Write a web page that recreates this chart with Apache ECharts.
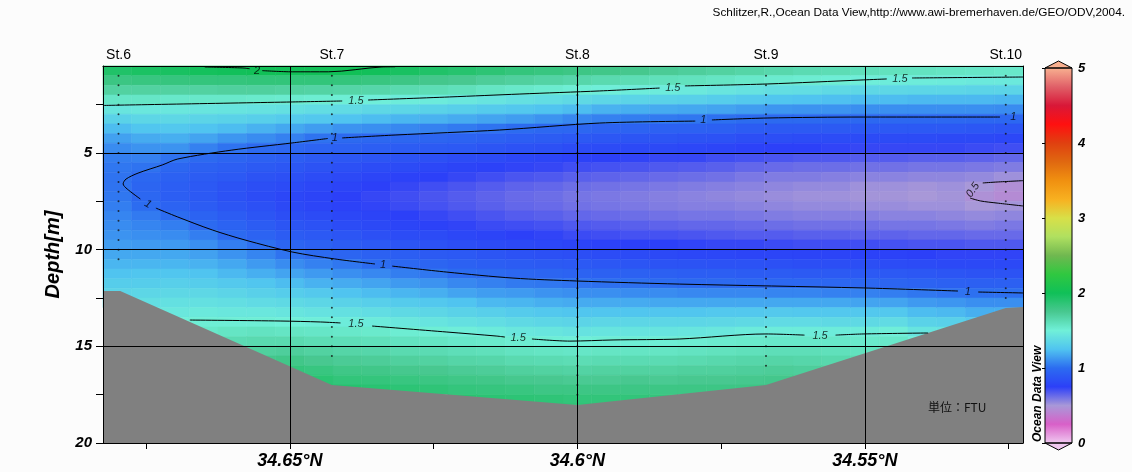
<!DOCTYPE html>
<html>
<head>
<meta charset="utf-8">
<title>Turbidity section St.6 - St.10</title>
<script src="https://cdn.jsdelivr.net/npm/echarts@6.0.0/dist/echarts.min.js"></script>
<style>
  html, body { margin: 0; padding: 0; background: #fcfcfc; }
  #chart { width: 1132px; height: 472px; }
</style>
</head>
<body>
<div id="chart"></div>
<script>
// section range
const latMax = 34.6825, latMin = 34.5225;
const depthMin = 0.5, depthMax = 20;

// gridded turbidity (FTU): cell centres
const lats = [34.680, 34.675, 34.670, 34.665, 34.660, 34.655, 34.650, 34.645, 34.640, 34.635, 34.630,
  34.625, 34.620, 34.615, 34.610, 34.605, 34.600, 34.595, 34.590, 34.585, 34.580, 34.575,
  34.570, 34.565, 34.560, 34.555, 34.550, 34.545, 34.540, 34.535, 34.530, 34.525];
const depths = [0.75, 1.25, 1.75, 2.25, 2.75, 3.25, 3.75, 4.25, 4.75, 5.25, 5.75, 6.25, 6.75, 7.25,
  7.75, 8.25, 8.75, 9.25, 9.75, 10.25, 10.75, 11.25, 11.75, 12.25, 12.75, 13.25, 13.75, 14.25,
  14.75, 15.25, 15.75, 16.25, 16.75, 17.25, 17.75, 18.25];
// one profile per latitude, from the surface down to the sea bed
const turbidity = [
  [1.93,1.81,1.69,1.56,1.44,1.33,1.23,1.15,1.09,1.05,1.03,1.02,1.02,1.03,1.05,1.07,1.09,1.11,1.14,1.17,1.21,1.25,1.30,1.34,1.38],
  [1.95,1.82,1.69,1.56,1.45,1.35,1.26,1.18,1.11,1.06,1.02,0.98,0.96,0.97,1.00,1.04,1.07,1.10,1.13,1.17,1.21,1.26,1.30,1.35,1.40,1.45],
  [1.96,1.83,1.69,1.55,1.45,1.36,1.27,1.19,1.11,1.02,0.97,0.94,0.92,0.92,0.95,1.00,1.05,1.09,1.13,1.17,1.21,1.26,1.31,1.36,1.41,1.45,1.50],
  [1.98,1.84,1.69,1.55,1.44,1.34,1.25,1.16,1.06,0.99,0.94,0.91,0.89,0.89,0.91,0.95,0.99,1.05,1.10,1.15,1.20,1.25,1.30,1.36,1.41,1.46,1.51,1.55,1.61],
  [1.99,1.84,1.70,1.55,1.43,1.33,1.23,1.12,1.02,0.96,0.92,0.89,0.86,0.85,0.87,0.91,0.95,0.99,1.05,1.11,1.17,1.22,1.28,1.34,1.40,1.45,1.51,1.57,1.63,1.69],
  [2.01,1.85,1.70,1.54,1.42,1.31,1.20,1.09,0.99,0.94,0.90,0.86,0.83,0.82,0.84,0.87,0.91,0.95,1.01,1.07,1.13,1.19,1.26,1.32,1.38,1.45,1.51,1.58,1.64,1.70,1.77],
  [2.01,1.85,1.69,1.53,1.41,1.29,1.17,1.06,0.97,0.92,0.88,0.84,0.81,0.79,0.80,0.83,0.87,0.91,0.96,1.02,1.09,1.16,1.23,1.30,1.37,1.44,1.50,1.57,1.64,1.71,1.78,1.84,1.89],
  [2.01,1.85,1.68,1.52,1.39,1.27,1.14,1.02,0.95,0.90,0.86,0.82,0.79,0.77,0.78,0.81,0.85,0.89,0.94,0.99,1.06,1.13,1.20,1.28,1.35,1.42,1.49,1.56,1.62,1.69,1.75,1.82,1.88,1.92],
  [2.01,1.84,1.67,1.51,1.38,1.25,1.11,0.99,0.94,0.88,0.84,0.80,0.77,0.75,0.76,0.79,0.82,0.87,0.91,0.96,1.03,1.10,1.18,1.25,1.33,1.41,1.48,1.55,1.61,1.67,1.73,1.79,1.85,1.90],
  [1.99,1.82,1.66,1.49,1.36,1.23,1.10,0.98,0.92,0.87,0.82,0.78,0.75,0.73,0.74,0.77,0.80,0.84,0.89,0.94,1.00,1.08,1.16,1.23,1.31,1.39,1.47,1.54,1.60,1.66,1.72,1.78,1.84,1.89],
  [1.96,1.80,1.64,1.48,1.35,1.21,1.08,0.97,0.91,0.86,0.81,0.76,0.73,0.71,0.72,0.75,0.78,0.82,0.87,0.92,0.98,1.05,1.13,1.21,1.29,1.37,1.45,1.52,1.58,1.64,1.70,1.76,1.82,1.87],
  [1.93,1.77,1.62,1.47,1.33,1.20,1.06,0.96,0.90,0.84,0.79,0.75,0.71,0.69,0.70,0.73,0.76,0.81,0.85,0.90,0.96,1.03,1.11,1.19,1.27,1.35,1.43,1.51,1.57,1.63,1.69,1.75,1.81,1.86],
  [1.90,1.75,1.60,1.45,1.31,1.18,1.04,0.95,0.89,0.82,0.77,0.73,0.69,0.67,0.68,0.71,0.74,0.79,0.83,0.89,0.94,1.00,1.08,1.16,1.25,1.33,1.41,1.49,1.55,1.61,1.67,1.73,1.79,1.84,1.89],
  [1.87,1.72,1.57,1.43,1.29,1.16,1.02,0.94,0.87,0.81,0.76,0.71,0.67,0.65,0.66,0.69,0.72,0.77,0.81,0.87,0.92,0.99,1.06,1.14,1.22,1.31,1.39,1.47,1.54,1.60,1.66,1.72,1.78,1.83,1.88],
  [1.84,1.70,1.55,1.41,1.27,1.14,1.00,0.92,0.85,0.79,0.74,0.69,0.65,0.63,0.64,0.67,0.71,0.75,0.80,0.85,0.91,0.97,1.04,1.13,1.21,1.29,1.37,1.45,1.52,1.58,1.64,1.70,1.76,1.82,1.87],
  [1.82,1.68,1.53,1.39,1.25,1.11,0.98,0.91,0.84,0.78,0.73,0.68,0.64,0.62,0.63,0.66,0.70,0.74,0.79,0.84,0.90,0.96,1.03,1.11,1.19,1.27,1.35,1.44,1.51,1.57,1.63,1.69,1.75,1.80,1.86],
  [1.80,1.66,1.51,1.37,1.23,1.08,0.97,0.89,0.82,0.76,0.71,0.66,0.62,0.60,0.61,0.64,0.68,0.72,0.77,0.83,0.89,0.95,1.02,1.10,1.18,1.26,1.34,1.42,1.50,1.56,1.62,1.68,1.74,1.80,1.85,1.89],
  [1.78,1.64,1.49,1.35,1.20,1.06,0.95,0.88,0.81,0.75,0.70,0.65,0.61,0.59,0.60,0.63,0.67,0.71,0.76,0.82,0.88,0.94,1.01,1.10,1.18,1.26,1.35,1.43,1.51,1.57,1.63,1.69,1.74,1.80,1.85],
  [1.76,1.62,1.48,1.34,1.19,1.05,0.95,0.87,0.80,0.74,0.69,0.64,0.60,0.58,0.59,0.62,0.66,0.70,0.75,0.81,0.87,0.94,1.01,1.09,1.18,1.26,1.35,1.43,1.51,1.57,1.63,1.69,1.75,1.80,1.85],
  [1.73,1.60,1.47,1.33,1.18,1.04,0.94,0.87,0.80,0.73,0.68,0.63,0.59,0.57,0.58,0.61,0.65,0.70,0.75,0.80,0.86,0.93,1.00,1.09,1.17,1.26,1.35,1.43,1.51,1.57,1.63,1.69,1.74,1.80,1.84],
  [1.71,1.59,1.46,1.32,1.17,1.03,0.94,0.86,0.79,0.73,0.67,0.62,0.58,0.56,0.57,0.60,0.64,0.69,0.74,0.79,0.86,0.92,0.99,1.08,1.17,1.26,1.35,1.44,1.52,1.58,1.64,1.70,1.75,1.80],
  [1.69,1.57,1.44,1.30,1.16,1.01,0.93,0.85,0.78,0.71,0.66,0.61,0.57,0.55,0.57,0.60,0.64,0.68,0.73,0.79,0.85,0.92,0.99,1.08,1.17,1.27,1.36,1.45,1.53,1.59,1.65,1.70,1.75,1.80],
  [1.67,1.55,1.42,1.28,1.14,1.00,0.91,0.83,0.76,0.70,0.64,0.59,0.56,0.54,0.56,0.59,0.63,0.67,0.73,0.78,0.85,0.91,0.98,1.08,1.17,1.27,1.37,1.47,1.54,1.60,1.66,1.71,1.76,1.80],
  [1.65,1.53,1.40,1.26,1.12,0.99,0.90,0.83,0.75,0.69,0.63,0.58,0.55,0.53,0.55,0.58,0.62,0.67,0.72,0.78,0.84,0.91,0.98,1.07,1.17,1.28,1.38,1.48,1.55,1.61,1.67,1.72,1.77,1.81],
  [1.63,1.52,1.39,1.25,1.11,0.99,0.90,0.82,0.75,0.68,0.62,0.58,0.54,0.52,0.54,0.57,0.61,0.66,0.71,0.77,0.83,0.90,0.98,1.07,1.17,1.27,1.38,1.48,1.55,1.61,1.66,1.71,1.76],
  [1.62,1.51,1.37,1.24,1.11,0.98,0.90,0.82,0.74,0.68,0.62,0.57,0.54,0.52,0.54,0.57,0.61,0.66,0.71,0.77,0.83,0.90,0.97,1.06,1.17,1.27,1.37,1.48,1.55,1.60,1.65,1.70],
  [1.60,1.49,1.36,1.23,1.10,0.98,0.89,0.81,0.73,0.67,0.61,0.56,0.52,0.51,0.53,0.57,0.61,0.65,0.71,0.76,0.83,0.89,0.97,1.06,1.16,1.27,1.37,1.48,1.54,1.59,1.64],
  [1.59,1.48,1.36,1.23,1.10,0.98,0.89,0.81,0.73,0.67,0.61,0.56,0.52,0.51,0.53,0.56,0.60,0.65,0.70,0.76,0.82,0.89,0.96,1.05,1.16,1.27,1.38,1.49,1.55,1.60],
  [1.58,1.48,1.35,1.22,1.10,0.98,0.89,0.81,0.73,0.66,0.60,0.55,0.51,0.50,0.52,0.56,0.60,0.64,0.69,0.75,0.81,0.88,0.95,1.03,1.13,1.23,1.33,1.43,1.50],
  [1.57,1.47,1.35,1.22,1.10,0.98,0.89,0.80,0.73,0.66,0.60,0.55,0.52,0.51,0.52,0.55,0.59,0.64,0.69,0.74,0.80,0.87,0.94,1.02,1.12,1.22,1.32,1.42],
  [1.56,1.46,1.34,1.22,1.10,0.97,0.88,0.80,0.72,0.65,0.59,0.54,0.50,0.47,0.50,0.54,0.58,0.63,0.68,0.74,0.80,0.86,0.93,1.01,1.10,1.19,1.28],
  [1.55,1.46,1.34,1.21,1.09,0.97,0.87,0.79,0.71,0.64,0.58,0.52,0.46,0.44,0.51,0.55,0.59,0.63,0.68,0.74,0.80,0.86,0.93,1.01,1.10,1.19]
];

// sea bed
const bathyLats = [34.6825, 34.6795, 34.6427, 34.6000, 34.5672, 34.5255, 34.5225];
const bathyDepths = [12.14, 12.14, 17.00, 18.04, 17.00, 13.02, 12.97];

// stations
const stationNames = ['St.6', 'St.7', 'St.8', 'St.9', 'St.10'];
const stationLats = [34.6798, 34.6427, 34.6000, 34.5672, 34.5255];
const stationLastSample = [10.5, 15.5, 17.5, 16.0, 12.5];
const sampleDepths = [1, 1.5, 2, 2.5, 3, 3.5, 4, 4.5, 5, 5.5, 6, 6.5, 7, 7.5, 8, 8.5, 9, 9.5, 10,
  10.5, 11, 11.5, 12, 12.5, 13, 13.5, 14, 14.5, 15, 15.5, 16, 16.5, 17, 17.5];

// contour lines [lat, depth], split where the labels sit
const contour2 = [
  [[34.6648, 0.55], [34.6583, 0.60], [34.6570, 0.64]],
  [[34.6548, 0.74], [34.6496, 0.80], [34.6433, 0.80], [34.6340, 0.55], [34.6317, 0.54]]
];
const contour15Upper = [
  [[34.6825, 2.54], [34.6496, 2.36], [34.6409, 2.31]],
  [[34.6364, 2.26], [34.6222, 2.10], [34.6100, 1.95], [34.5961, 1.79], [34.5857, 1.64]],
  [[34.5813, 1.53], [34.5670, 1.43], [34.5503, 1.22], [34.5462, 1.17]],
  [[34.5418, 1.12], [34.5225, 1.07]]
];
const contour1 = [
  [[34.5265, 3.14], [34.5503, 3.14], [34.5670, 3.19], [34.5766, 3.29]],
  [[34.5795, 3.35], [34.5961, 3.45], [34.6135, 3.81], [34.6317, 4.07], [34.6409, 4.22]],
  [[34.6434, 4.25], [34.6496, 4.48], [34.6601, 4.85], [34.6695, 5.31], [34.6722, 5.62], [34.6764, 6.04],
   [34.6785, 6.35], [34.6790, 6.60], [34.6783, 6.86], [34.6760, 7.38]],
  [[34.6733, 7.85], [34.6695, 8.31], [34.6635, 8.98], [34.6578, 9.50], [34.6496, 10.12], [34.6422, 10.48], [34.6352, 10.74]],
  [[34.6322, 10.85], [34.6227, 11.16], [34.6112, 11.47], [34.6001, 11.62], [34.5822, 11.78], [34.5503, 11.98], [34.5338, 12.14]],
  [[34.5303, 12.19], [34.5225, 12.24]]
];
const contour15Lower = [
  [[34.6674, 13.64], [34.6517, 13.69], [34.6447, 13.74], [34.6412, 13.79]],
  [[34.6357, 13.95], [34.6227, 14.26], [34.6140, 14.47], [34.6126, 14.52]],
  [[34.6079, 14.62], [34.6013, 14.73], [34.5938, 14.67], [34.5822, 14.62], [34.5672, 14.36], [34.5605, 14.42]],
  [[34.5551, 14.42], [34.5503, 14.36], [34.5390, 14.31]]
];
const contour05 = [
  [[34.5225, 6.43], [34.5270, 6.50], [34.5295, 6.55]],
  [[34.5317, 7.33], [34.5299, 7.48], [34.5270, 7.59], [34.5225, 7.74]]
];
// [lat, depth, text, rotation]
const contourLabels = [
  [34.6557, 0.76, '2', 0],
  [34.6385, 2.31, '1.5', 0],
  [34.5834, 1.64, '1.5', 0],
  [34.5439, 1.17, '1.5', 0],
  [34.6422, 4.22, '1', 0],
  [34.5781, 3.29, '1', 0],
  [34.5242, 3.14, '1', 0],
  [34.6747, 7.64, '1', -30],
  [34.6338, 10.79, '1', 0],
  [34.5321, 12.19, '1', 0],
  [34.6385, 13.85, '1.5', 0],
  [34.6103, 14.57, '1.5', 0],
  [34.5578, 14.47, '1.5', 0],
  [34.5312, 6.91, '0.5', 55]
];

// axes
const xTickLats = [34.675, 34.65, 34.625, 34.6, 34.575, 34.55, 34.525];
const xLabelLats = [34.65, 34.6, 34.55];
const depthTicks = [2.5, 5, 7.5, 10, 12.5, 15, 17.5, 20];
const depthLabels = [5, 10, 15, 20];
const gridLats = [34.65, 34.6, 34.55];
const gridDepths = [5, 10, 15];

// ODV colour scale, 0 .. 5 in steps of 0.25
const palette = ['#f0c8f0', '#d860c8', '#a898d8', '#2c40f8', '#2c6cf0', '#50c4f0', '#70f0d8', '#48c890',
  '#10c058', '#30c840', '#70b850', '#b0e060', '#d8e048', '#f8b020', '#f09010', '#e06810',
  '#e04010', '#ff1010', '#d81838', '#e06068', '#f8b090'];

const fontLatin = 'Liberation Sans, Arial, sans-serif';

let cells = [];
turbidity.forEach(function (col, i) {
  col.forEach(function (v, j) {
    cells.push([lats[i], depths[j], v]);
  });
});

let samples = [];
stationLats.forEach(function (lat, s) {
  sampleDepths.forEach(function (d) {
    if (d <= stationLastSample[s]) samples.push([lat, d]);
  });
});

function renderCell(params, api) {
  const a = api.coord([api.value(0) + 0.0025, api.value(1) - 0.25]);
  const b = api.coord([api.value(0) - 0.0025, api.value(1) + 0.25]);
  const rect = echarts.graphic.clipRectByRect({
    x: Math.min(a[0], b[0]), y: Math.min(a[1], b[1]),
    width: Math.abs(b[0] - a[0]), height: Math.abs(b[1] - a[1])
  }, {
    x: params.coordSys.x, y: params.coordSys.y,
    width: params.coordSys.width, height: params.coordSys.height
  });
  if (!rect) return;
  const c = api.visual('color');
  return { type: 'rect', shape: rect, style: { fill: c, stroke: c, lineWidth: 0.6 } };
}

function renderBed(params, api) {
  if (params.dataIndex !== 0) return;
  let pts = bathyLats.map(function (lat, k) { return api.coord([lat, bathyDepths[k]]); });
  pts.push(api.coord([bathyLats[bathyLats.length - 1], depthMax]));
  pts.push(api.coord([bathyLats[0], depthMax]));
  return { type: 'polygon', shape: { points: pts }, style: { fill: '#808080' } };
}

let contourSeries = [];
[contour2, contour15Upper, contour1, contour15Lower, contour05].forEach(function (c) {
  c.forEach(function (seg) {
    contourSeries.push({
      type: 'line',
      data: seg,
      showSymbol: false,
      smooth: 0.3,
      silent: true,
      z: 4,
      lineStyle: { color: '#000', width: 1 }
    });
  });
});

let option = {
  backgroundColor: '#fcfcfc',
  animation: false,
  textStyle: { fontFamily: fontLatin },
  grid: [
    { left: 103, top: 66, width: 920, height: 377, show: false },
    { left: 1045, top: 68, width: 27, height: 375, show: false }
  ],
  xAxis: [
    {
      gridIndex: 0, type: 'value', min: latMin, max: latMax, inverse: true, position: 'bottom', z: 10,
      axisLine: { show: true, onZero: false, lineStyle: { color: '#000', width: 1 } },
      axisTick: { show: true, length: 6, customValues: xTickLats, lineStyle: { color: '#000' } },
      axisLabel: {
        customValues: xLabelLats, margin: 9, color: '#000', fontSize: 18,
        fontStyle: 'italic', fontWeight: 'bold', fontFamily: fontLatin,
        formatter: function (v) { return (+v.toFixed(3)) + '°N'; }
      },
      splitLine: { show: false }
    },
    {
      gridIndex: 0, type: 'value', min: latMin, max: latMax, inverse: true, position: 'top', z: 10,
      axisLine: { show: true, onZero: false, lineStyle: { color: '#000', width: 1 } },
      axisTick: { show: false },
      axisLabel: {
        customValues: stationLats, margin: 4, color: '#000', fontSize: 14, fontFamily: fontLatin,
        formatter: function (v) {
          const k = stationLats.findIndex(function (s) { return Math.abs(s - v) < 1e-6; });
          return k >= 0 ? stationNames[k] : '';
        }
      },
      splitLine: { show: false }
    },
    { gridIndex: 1, type: 'value', min: 0, max: 1, show: false }
  ],
  yAxis: [
    {
      gridIndex: 0, type: 'value', min: depthMin, max: depthMax, inverse: true, z: 10,
      name: 'Depth[m]', nameLocation: 'middle', nameGap: 40, nameRotate: 90,
      nameTextStyle: { color: '#000', fontSize: 20, fontStyle: 'italic', fontWeight: 'bold', fontFamily: fontLatin },
      axisLine: { show: true, onZero: false, lineStyle: { color: '#000', width: 1 } },
      axisTick: { show: true, length: 7, customValues: depthTicks, lineStyle: { color: '#000' } },
      axisLabel: {
        customValues: depthLabels, margin: 11, color: '#000', fontSize: 15,
        fontStyle: 'italic', fontWeight: 'bold', fontFamily: fontLatin
      },
      splitLine: { show: false }
    },
    {
      gridIndex: 0, type: 'value', min: depthMin, max: depthMax, inverse: true, position: 'right', z: 10,
      axisLine: { show: true, onZero: false, lineStyle: { color: '#000', width: 1 } },
      axisTick: { show: false }, axisLabel: { show: false }, splitLine: { show: false }
    },
    {
      gridIndex: 1, type: 'value', min: 0, max: 5, interval: 1, position: 'right', z: 10,
      axisLine: { show: false },
      axisTick: { show: true, length: 3, inside: true, lineStyle: { color: '#000' } },
      axisLabel: {
        margin: 6, color: '#000', fontSize: 13, fontStyle: 'italic', fontWeight: 'bold', fontFamily: fontLatin
      },
      splitLine: { show: false }
    }
  ],
  visualMap: {
    type: 'continuous', min: 0, max: 5, dimension: 2, seriesIndex: 0,
    calculable: false, hoverLink: false, orient: 'vertical',
    left: 1045, top: 68, itemWidth: 27, itemHeight: 375, padding: 0,
    inRange: { color: palette }
  },
  graphic: [
    { type: 'polygon', z: 20, shape: { points: [[1045, 68], [1058.5, 61], [1072, 68]] },
      style: { fill: palette[palette.length - 1], stroke: '#000', lineWidth: 1 } },
    { type: 'polygon', z: 20, shape: { points: [[1045, 443], [1058.5, 450], [1072, 443]] },
      style: { fill: palette[0], stroke: '#000', lineWidth: 1 } },
    { type: 'rect', z: 20, shape: { x: 1045, y: 68, width: 27, height: 375 },
      style: { fill: 'none', stroke: '#000', lineWidth: 1 } },
    { type: 'text', z: 20, x: 1038, y: 442, rotation: Math.PI / 2,
      style: { text: 'Ocean Data View', font: 'italic bold 12px Liberation Sans', fill: '#000',
        textAlign: 'left', textVerticalAlign: 'middle' } },
    { type: 'text', z: 20, x: 1125, y: 13,
      style: { text: 'Schlitzer,R.,Ocean Data View,http://www.awi-bremerhaven.de/GEO/ODV,2004.',
        font: '11.8px Liberation Sans', fill: '#000', textAlign: 'right', textVerticalAlign: 'middle' } },
    { type: 'text', z: 20, x: 928, y: 407,
      style: { text: '単位：FTU', font: '12px "Noto Sans CJK JP"', fill: '#111',
        textAlign: 'left', textVerticalAlign: 'middle' } }
  ],
  series: [
    {
      type: 'custom', name: 'turbidity', renderItem: renderCell, data: cells,
      encode: { x: 0, y: 1 }, silent: true, z: 1
    },
    {
      type: 'custom', name: 'bed', renderItem: renderBed,
      data: bathyLats.map(function (l, k) { return [l, bathyDepths[k]]; }),
      encode: { x: 0, y: 1 }, silent: true, z: 2
    },
    {
      type: 'scatter', name: 'samples', data: samples, symbolSize: 2, silent: true, z: 3,
      itemStyle: { color: '#111' },
      markLine: {
        silent: true, symbol: ['none', 'none'], label: { show: false }, animation: false,
        lineStyle: { color: '#000', width: 1, type: 'solid' },
        data: gridLats.map(function (l) { return { xAxis: l }; })
          .concat(gridDepths.map(function (d) { return { yAxis: d }; }))
      }
    },
    {
      type: 'scatter', name: 'labels', symbolSize: 0, silent: true, z: 6,
      data: contourLabels.map(function (c) {
        return { value: [c[0], c[1]], name: c[2], label: { rotate: c[3] } };
      }),
      label: {
        show: true, position: 'inside', formatter: '{b}', color: '#000',
        fontSize: 11, fontStyle: 'italic', fontFamily: fontLatin
      }
    }
  ].concat(contourSeries)
};

const chart = echarts.init(document.getElementById('chart'));
chart.setOption(option);
</script>
</body>
</html>
